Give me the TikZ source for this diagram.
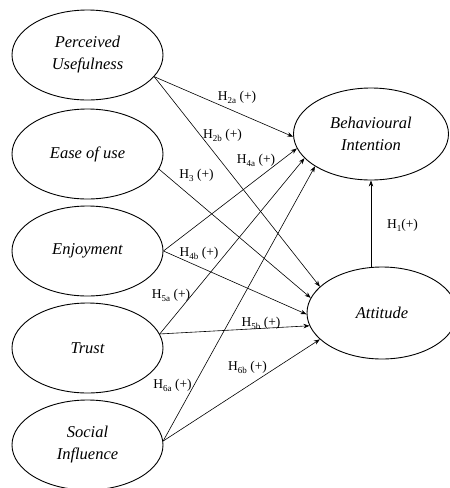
\documentclass[tikz,border=0pt]{standalone}
\usepackage{fontspec}
\setmainfont{Liberation Serif}
\usetikzlibrary{shapes.geometric,arrows.meta}
\newcommand\hsub[1]{\raisebox{-0.5ex}{\fontsize{9}{9}\selectfont #1}}
\begin{document}
\begin{tikzpicture}[x=1pt,y=-1pt,
  var/.style={ellipse,draw,line width=0.9pt,inner sep=0pt,minimum width=151pt,minimum height=90pt,align=center,font=\fontsize{16.5}{22}\selectfont\itshape},
  hyp/.style={font=\fontsize{13.5}{16}\selectfont,inner sep=0pt},
  arr/.style={-{Stealth[length=6pt,width=4.5pt]},line width=0.6pt}]
\useasboundingbox (0,0) rectangle (450,488);
\clip (0,0) rectangle (450,488);
\node[var] (pu) at (87.5,55) {Perceived\\Usefulness};
\node[var] (eou) at (87.5,154) {Ease of use};
\node[var] (enj) at (87.5,251) {Enjoyment};
\node[var] (tru) at (87.5,348) {Trust};
\node[var] (soc) at (87.5,445) {Social\\Influence};
\node[var,minimum width=155pt,minimum height=92pt] (bi) at (371,134) {Behavioural\\Intention};
\node[var,minimum width=150pt,minimum height=92pt] (att) at (382,313) {Attitude};
\draw[arr] (pu.-18) -- (bi.182);
\draw[arr] (pu.-18) -- (att.157);
\draw[arr] (eou.-12) -- (att.168);
\draw[arr] (enj.0) -- (bi.191);
\draw[arr] (enj.0) -- (att.181);
\draw[arr] (tru.11) -- (bi.200);
\draw[arr] (tru.11) -- (att.190);
\draw[arr] (soc.3) -- (bi.210);
\draw[arr] (soc.3) -- (att.203);
\draw[arr] (att.north -| bi.south) -- (bi.south);
\node[hyp] (h2a) at (237,97) {H\hsub{2a} (+)};
\node[hyp] (h2b) at (222.5,135) {H\hsub{2b} (+)};
\node[hyp] (h4a) at (256,160) {H\hsub{4a} (+)};
\node[hyp] (h3) at (196.5,175) {H\hsub{3} (+)};
\node[hyp] (h4b) at (199,253) {H\hsub{4b} (+)};
\node[hyp] (h5a) at (171,295) {H\hsub{5a} (+)};
\node[hyp] (h5b) at (261,323) {H\hsub{5b} (+)};
\node[hyp] (h6a) at (172.5,385) {H\hsub{6a} (+)};
\node[hyp] (h6b) at (247.5,367) {H\hsub{6b} (+)};
\node[hyp] (h1) at (402.5,225) {H\hsub{1}(+)};
\end{tikzpicture}
\end{document}
